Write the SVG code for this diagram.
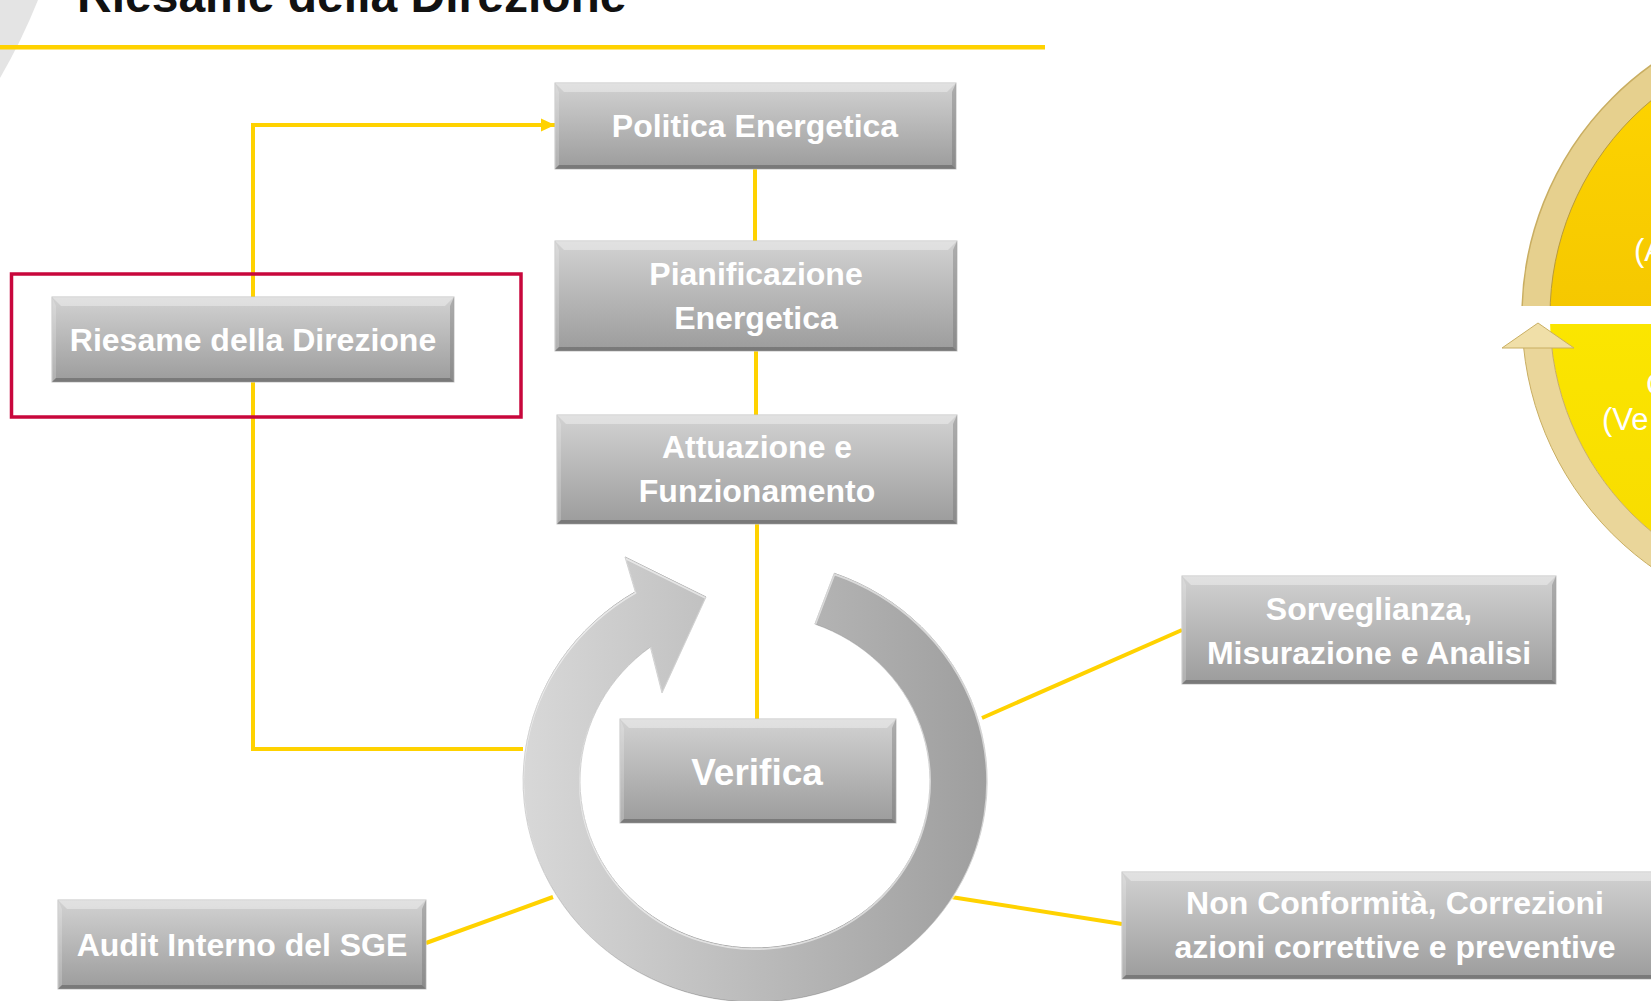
<svg xmlns="http://www.w3.org/2000/svg" width="1651" height="1001" viewBox="0 0 1651 1001">
<style>
.bt{font-family:"Liberation Sans",Arial,sans-serif;font-weight:bold;font-size:32px;fill:#ffffff;text-anchor:middle}
.base{fill:url(#boxg);stroke:#c4c4c4;stroke-width:1}
.tb{fill:#ffffff;fill-opacity:0.35}
.lb{fill:#ffffff;fill-opacity:0.2}
.rb{fill:#6a6a6a;fill-opacity:0.35}
.bb{fill:#555555;fill-opacity:0.5}
.con{fill:none;stroke:#FFD200;stroke-width:4}
.pd{font-family:"Liberation Sans",Arial,sans-serif;font-size:31px;fill:#ffffff}
</style>
<defs>
<linearGradient id="boxg" x1="0" y1="0" x2="0" y2="1">
<stop offset="0" stop-color="#d2d2d2"/>
<stop offset="1" stop-color="#9c9c9c"/>
</linearGradient>
<linearGradient id="ringg" x1="0" y1="0" x2="1" y2="0">
<stop offset="0" stop-color="#d8d8d8"/>
<stop offset="1" stop-color="#9e9e9e"/>
</linearGradient>
<linearGradient id="goldg" x1="0" y1="0" x2="0" y2="1">
<stop offset="0" stop-color="#FFD600"/>
<stop offset="1" stop-color="#EBB900"/>
</linearGradient>
<linearGradient id="yelg" x1="0" y1="0" x2="0" y2="1">
<stop offset="0" stop-color="#FFF200"/>
<stop offset="1" stop-color="#F7DA00"/>
</linearGradient>
<marker id="arr" markerUnits="userSpaceOnUse" markerWidth="14" markerHeight="14" refX="14" refY="7" orient="auto">
<path d="M0,0.5 L14,7 L0,13.5 Z" fill="#FFD200"/>
</marker>
<clipPath id="upclip"><rect x="1400" y="0" width="300" height="306"/></clipPath>
<clipPath id="lowclip"><rect x="1400" y="348" width="300" height="400"/></clipPath>
<clipPath id="lowyclip"><rect x="1400" y="324" width="300" height="400"/></clipPath>
</defs>

<rect x="0" y="0" width="1651" height="1001" fill="#ffffff"/>

<g id="decoration">
<path d="M0,0 H38 Q22,40 0,78 Z" fill="#e4e4e4"/>
<text x="77" y="12" style="font-family:'Liberation Sans',Arial,sans-serif;font-weight:bold;font-size:48px;fill:#111111">Riesame della Direzione</text>
<rect x="0" y="45" width="1045" height="4.5" fill="#FFD200"/>
</g>

<g id="connectors">
<path class="con" d="M523,749 H253 V125 H555" marker-end="url(#arr)"/>
<line class="con" x1="755" y1="169" x2="755" y2="241"/>
<line class="con" x1="756" y1="351" x2="756" y2="415"/>
<line class="con" x1="757" y1="524" x2="757" y2="719"/>
<line class="con" x1="982" y1="718" x2="1182" y2="630"/>
<line class="con" x1="951" y1="897" x2="1122" y2="924"/>
<line class="con" x1="426" y1="943" x2="553" y2="897"/>
</g>

<g id="cycle-arrow">
<path d="M834.3,573.3 A232,221 0 1 1 635.3,591.8 L625,557 L706,597 L662,693 L650.4,647.1 A175,167 0 1 0 814.9,624.1 Z" fill="url(#ringg)" stroke="#9a9a9a" stroke-width="1"/>
<path d="M834.3,573.3 A232,221 0 1 1 635.3,591.8 L625,557 L706,597 L662,693 L650.4,647.1 A175,167 0 1 0 814.9,624.1 Z" fill="none" stroke="#ffffff" stroke-opacity="0.55" stroke-width="2" transform="translate(0,1)"/>
</g>

<g id="node-politica">
<rect class="base" x="555" y="83" width="401" height="86"/>
<polygon class="tb" points="555,83 956,83 947,92 564,92"/>
<polygon class="lb" points="555,83 559,92 559,165 555,169"/>
<polygon class="rb" points="956,83 956,169 952,165 952,92"/>
<polygon class="bb" points="555,169 956,169 952,165 559,165"/>
<text class="bt" x="755" y="137">Politica Energetica</text>
</g>

<g id="node-pianificazione">
<rect class="base" x="555" y="241" width="402" height="110"/>
<polygon class="tb" points="555,241 957,241 948,250 564,250"/>
<polygon class="lb" points="555,241 559,250 559,347 555,351"/>
<polygon class="rb" points="957,241 957,351 953,347 953,250"/>
<polygon class="bb" points="555,351 957,351 953,347 559,347"/>
<text class="bt" x="756" y="285">Pianificazione</text>
<text class="bt" x="756" y="329">Energetica</text>
</g>

<g id="node-attuazione">
<rect class="base" x="557" y="415" width="400" height="109"/>
<polygon class="tb" points="557,415 957,415 948,424 566,424"/>
<polygon class="lb" points="557,415 561,424 561,520 557,524"/>
<polygon class="rb" points="957,415 957,524 953,520 953,424"/>
<polygon class="bb" points="557,524 957,524 953,520 561,520"/>
<text class="bt" x="757" y="458">Attuazione e</text>
<text class="bt" x="757" y="502">Funzionamento</text>
</g>

<g id="node-riesame">
<rect class="base" x="52" y="297" width="402" height="85"/>
<polygon class="tb" points="52,297 454,297 445,306 61,306"/>
<polygon class="lb" points="52,297 56,306 56,378 52,382"/>
<polygon class="rb" points="454,297 454,382 450,378 450,306"/>
<polygon class="bb" points="52,382 454,382 450,378 56,378"/>
<text class="bt" x="253" y="351">Riesame della Direzione</text>
</g>

<g id="highlight-riesame">
<rect x="11.5" y="274" width="509.5" height="143" fill="none" stroke="#C8073C" stroke-width="3.5"/>
</g>

<g id="node-verifica">
<rect class="base" x="620" y="719" width="276" height="104"/>
<polygon class="tb" points="620,719 896,719 887,728 629,728"/>
<polygon class="lb" points="620,719 624,728 624,819 620,823"/>
<polygon class="rb" points="896,719 896,823 892,819 892,728"/>
<polygon class="bb" points="620,823 896,823 892,819 624,819"/>
<text class="bt" x="757" y="785" style="font-size:37px">Verifica</text>
</g>

<g id="node-sorveglianza">
<rect class="base" x="1182" y="576" width="374" height="108"/>
<polygon class="tb" points="1182,576 1556,576 1547,585 1191,585"/>
<polygon class="lb" points="1182,576 1186,585 1186,680 1182,684"/>
<polygon class="rb" points="1556,576 1556,684 1552,680 1552,585"/>
<polygon class="bb" points="1182,684 1556,684 1552,680 1186,680"/>
<text class="bt" x="1369" y="620">Sorveglianza,</text>
<text class="bt" x="1369" y="664">Misurazione e Analisi</text>
</g>

<g id="node-nonconformita">
<rect class="base" x="1122" y="872" width="548" height="107"/>
<polygon class="tb" points="1122,872 1670,872 1661,881 1131,881"/>
<polygon class="lb" points="1122,872 1126,881 1126,975 1122,979"/>
<polygon class="bb" points="1122,979 1670,979 1666,975 1126,975"/>
<text class="bt" x="1395" y="914">Non Conformità, Correzioni</text>
<text class="bt" x="1395" y="958">azioni correttive e preventive</text>
</g>

<g id="node-audit">
<rect class="base" x="58" y="900" width="368" height="89"/>
<polygon class="tb" points="58,900 426,900 417,909 67,909"/>
<polygon class="lb" points="58,900 62,909 62,985 58,989"/>
<polygon class="rb" points="426,900 426,989 422,985 422,909"/>
<polygon class="bb" points="58,989 426,989 422,985 62,985"/>
<text class="bt" x="242" y="956">Audit Interno del SGE</text>
</g>

<g id="pdca-upper">
<g clip-path="url(#upclip)">
<circle cx="1830" cy="316" r="308" fill="#E6D08E" stroke="#C9AE62" stroke-width="1.5"/>
<circle cx="1830" cy="316" r="280" fill="url(#goldg)" stroke="#B89A3C" stroke-width="1"/>
</g>
<text class="pd" x="1634" y="261">(A</text>
</g>

<g id="pdca-lower">
<g clip-path="url(#lowyclip)">
<circle cx="1830" cy="316" r="280" fill="url(#yelg)"/>
</g>
<g clip-path="url(#lowclip)">
<path d="M1830,8 A308,308 0 0 0 1830,624 L1830,596 A280,280 0 0 1 1830,36 Z" fill="#EAD69A" stroke="#C9AE62" stroke-width="1"/>
</g>
<polygon points="1502,348 1538,323 1574,348" fill="#F0DFA8" stroke="#C9AE62" stroke-width="1"/>
<text class="pd" x="1646" y="395">C</text>
<text class="pd" x="1602" y="430">(Ve</text>
</g>
</svg>
